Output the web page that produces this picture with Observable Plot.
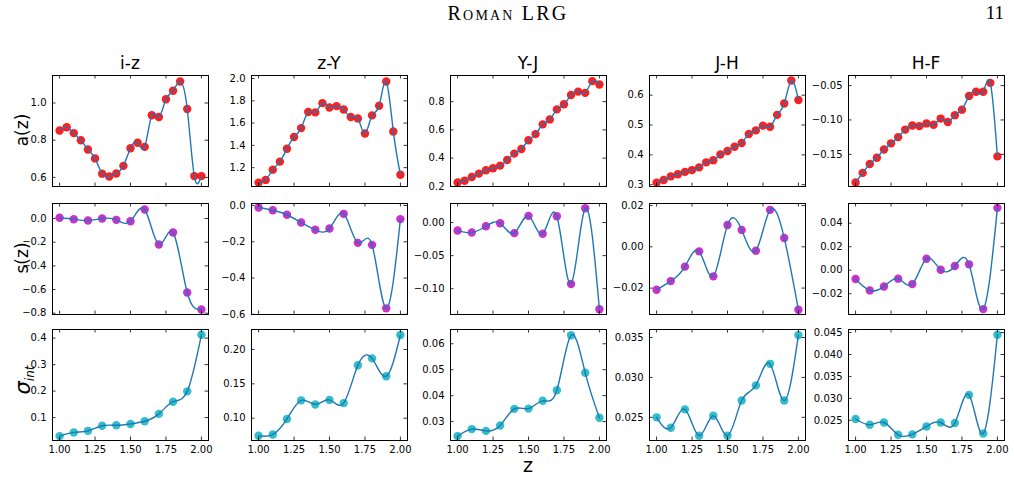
<!DOCTYPE html>
<html><head><meta charset="utf-8">
<script src="https://cdn.jsdelivr.net/npm/d3@7"></script>
<script src="https://cdn.jsdelivr.net/npm/@observablehq/plot@0.6"></script>
<style>
body{margin:0;background:#fff;}
#root{position:relative;width:1014px;height:480px;overflow:hidden;font-family:"DejaVu Sans",sans-serif;color:#000;}
.abs{position:absolute;white-space:nowrap;line-height:1;}
</style></head><body><div id="root"></div>
<script>
// ---------------- data ----------------
const colours = ["i-z","z-Y","Y-J","J-H","H-F"];
const zA = [1.00,1.05,1.10,1.15,1.20,1.25,1.30,1.35,1.40,1.45,1.50,1.55,1.60,1.65,1.70,1.75,1.80,1.85,1.90,1.95,2.00];
const zS = [1.0,1.1,1.2,1.3,1.4,1.5,1.6,1.7,1.8,1.9,2.0];

const a_iz = [0.852,0.870,0.838,0.800,0.750,0.702,0.620,0.605,0.621,0.662,0.757,0.786,0.764,0.934,0.925,1.020,1.066,1.116,0.968,0.607,0.607];
const a_zY = [1.066,1.090,1.182,1.254,1.370,1.475,1.555,1.699,1.696,1.779,1.740,1.752,1.722,1.654,1.642,1.507,1.669,1.755,1.973,1.525,1.137];
const a_YJ = [0.228,0.240,0.266,0.290,0.314,0.328,0.347,0.387,0.432,0.465,0.527,0.570,0.639,0.674,0.745,0.781,0.847,0.871,0.862,0.945,0.921];
const a_JH = [0.307,0.316,0.328,0.335,0.343,0.349,0.358,0.375,0.382,0.401,0.413,0.427,0.440,0.470,0.482,0.498,0.494,0.534,0.572,0.649,0.584];
const a_HF = [-0.191,-0.177,-0.164,-0.155,-0.143,-0.134,-0.125,-0.114,-0.108,-0.109,-0.105,-0.107,-0.098,-0.103,-0.093,-0.085,-0.065,-0.059,-0.059,-0.046,-0.153];

const s_iz = [0.006,-0.006,-0.017,0.000,-0.011,-0.023,0.076,-0.220,-0.118,-0.625,-0.769];
const s_zY = [-0.011,-0.026,-0.051,-0.094,-0.134,-0.127,-0.046,-0.206,-0.217,-0.567,-0.075];
const s_YJ = [-0.0121,-0.0150,-0.0056,-0.0010,-0.0160,0.0101,-0.0170,0.0096,-0.0930,0.0217,-0.1310];
const s_JH = [-0.0208,-0.0166,-0.0096,-0.0022,-0.0143,0.0106,0.0082,-0.0019,0.0179,0.0043,-0.0305];
const s_HF = [-0.0075,-0.0172,-0.0138,-0.0072,-0.0118,0.0098,0.0004,0.0036,0.0050,-0.0331,0.0531];

const sig_iz = [0.030,0.044,0.050,0.069,0.071,0.076,0.086,0.114,0.160,0.199,0.4125];
const sig_zY = [0.0744,0.0763,0.099,0.126,0.120,0.1266,0.122,0.177,0.187,0.161,0.221];
const sig_YJ = [0.0244,0.0271,0.0264,0.0285,0.0349,0.0350,0.0380,0.0421,0.0633,0.0488,0.0315];
const sig_JH = [0.0250,0.0237,0.0260,0.0227,0.0252,0.0227,0.0271,0.0290,0.0317,0.0271,0.0353];
const sig_HF = [0.0253,0.0240,0.0245,0.0217,0.0218,0.0236,0.0245,0.0244,0.0308,0.0220,0.0445];

const xTicks = [1.00,1.25,1.50,1.75,2.00];
const yTicksA = [[0.6,0.8,1.0],[1.2,1.4,1.6,1.8,2.0],[0.2,0.4,0.6,0.8],[0.3,0.4,0.5,0.6],[-0.15,-0.10,-0.05]];
const yTicksS = [[-0.8,-0.6,-0.4,-0.2,0.0],[-0.6,-0.4,-0.2,0.0],[-0.10,-0.05,0.00],[-0.02,0.00,0.02],[-0.02,0.00,0.02,0.04]];
const yTicksSig = [[0.1,0.2,0.3,0.4],[0.10,0.15,0.20],[0.03,0.04,0.05,0.06],[0.025,0.030,0.035],[0.025,0.030,0.035,0.040,0.045]];
const fmtA = [".1f",".1f",".1f",".1f",".2f"];
const fmtS = [".1f",".1f",".2f",".2f",".2f"];
const fmtSig = [".1f",".2f",".2f",".3f",".3f"];

// ---------------- layout / scales ----------------
const domA = [[0.551,1.148],[1.031,2.027],[0.199,0.985],[0.294,0.666],[-0.1968,-0.0353]];
const domS = [[-0.811,0.127],[-0.601,0.011],[-0.139,0.0288],[-0.0328,0.021],[-0.0377,0.0568]];
const domSig = [[0.0135,0.4326],[0.0676,0.229],[0.0227,0.0655],[0.0221,0.036],[0.0204,0.0457]];
const colLeft = [52,251,450,649,848];
const rowTop = [75,203,329];
const W = 156, H = 111;
const ML = 50, MR = 8, MT = 8, MB = 24;

const rows = [
  {series:[a_iz,a_zY,a_YJ,a_JH,a_HF], z:zA, ticks:yTicksA, fmt:fmtA, dom:domA, fill:"#ff0a0a"},
  {series:[s_iz,s_zY,s_YJ,s_JH,s_HF], z:zS, ticks:yTicksS, fmt:fmtS, dom:domS, fill:"#c81ec8"},
  {series:[sig_iz,sig_zY,sig_YJ,sig_JH,sig_HF], z:zS, ticks:yTicksSig, fmt:fmtSig, dom:domSig, fill:"#1fb8c6"}
];

const root = document.getElementById("root");
function addText(html, x, y, css){
  const d = document.createElement("div");
  d.className = "abs"; d.innerHTML = html;
  d.style.cssText += css;
  d.style.left = x + "px"; d.style.top = y + "px";
  root.appendChild(d); return d;
}

rows.forEach((row, r) => {
  row.series.forEach((vals, c) => {
    const data = row.z.map((z, i) => ({z, v: vals[i]}));
    const ticks = row.ticks[c];
    const marks = [
      Plot.dot(data, {x:"z", y:"v", r:4.2, fill:row.fill, fillOpacity:0.92}),
      Plot.line(data, {x:"z", y:"v", curve:"natural", stroke:"#1f77b4", strokeWidth:1.4}),
      Plot.tickY(ticks, {y:d=>d, insetRight:W-3.5, stroke:"#000", strokeWidth:0.8}),
      Plot.tickY(ticks, {y:d=>d, insetLeft:W-3.5, stroke:"#000", strokeWidth:0.8}),
      Plot.tickX(xTicks, {x:d=>d, insetTop:H-3.5, stroke:"#000", strokeWidth:0.8}),
      Plot.tickX(xTicks, {x:d=>d, insetBottom:H-3.5, stroke:"#000", strokeWidth:0.8}),
      Plot.axisY(ticks, {anchor:"left", label:null, tickSize:0, tickPadding:6, tickFormat:d3.format(row.fmt[c])}),
      Plot.frame({stroke:"#000", strokeWidth:1})
    ];
    if (r === 2) marks.push(Plot.axisX(xTicks, {anchor:"bottom", label:null, tickSize:0, tickPadding:5, tickFormat:d3.format(".2f")}));
    const svg = Plot.plot({
      width: W + ML + MR, height: H + MT + MB,
      marginLeft: ML, marginRight: MR, marginTop: MT, marginBottom: MB,
      x: {domain:[0.95,2.05], axis:null, label:null},
      y: {domain:row.dom[c], axis:null, label:null},
      style: {fontFamily:"DejaVu Sans", fontSize:"10px", background:"transparent", overflow:"visible", color:"#000"},
      marks
    });
    svg.style.position = "absolute";
    svg.style.left = (colLeft[c] - ML) + "px";
    svg.style.top = (rowTop[r] - MT) + "px";
    root.appendChild(svg);
  });
});

// column titles
colours.forEach((t, c) => {
  addText(t, colLeft[c] + W/2, 55, "font-size:17px;transform:translateX(-50%);");
});

// row labels
addText("a(z)", 22, 130, "font-size:17px;transform:translate(-50%,-50%) rotate(-90deg);");
addText("s(z)", 22, 258, "font-size:17px;transform:translate(-50%,-50%) rotate(-90deg);");
addText("<i>σ</i><i style='font-size:12px;position:relative;top:4px'>int</i>", 23, 380, "font-size:21px;transform:translate(-50%,-50%) rotate(-90deg);");

// x label
addText("z", colLeft[2] + W/2, 456, "font-size:19px;transform:translateX(-50%);");

// page header
addText("Roman LRG", 508, 3, "font-family:'Liberation Serif',serif;font-variant:small-caps;font-size:20px;letter-spacing:2.2px;transform:translateX(-50%);");
addText("11", 1004, 3, "font-family:'Liberation Serif',serif;font-size:19px;transform:translateX(-100%);");
</script></body></html>
